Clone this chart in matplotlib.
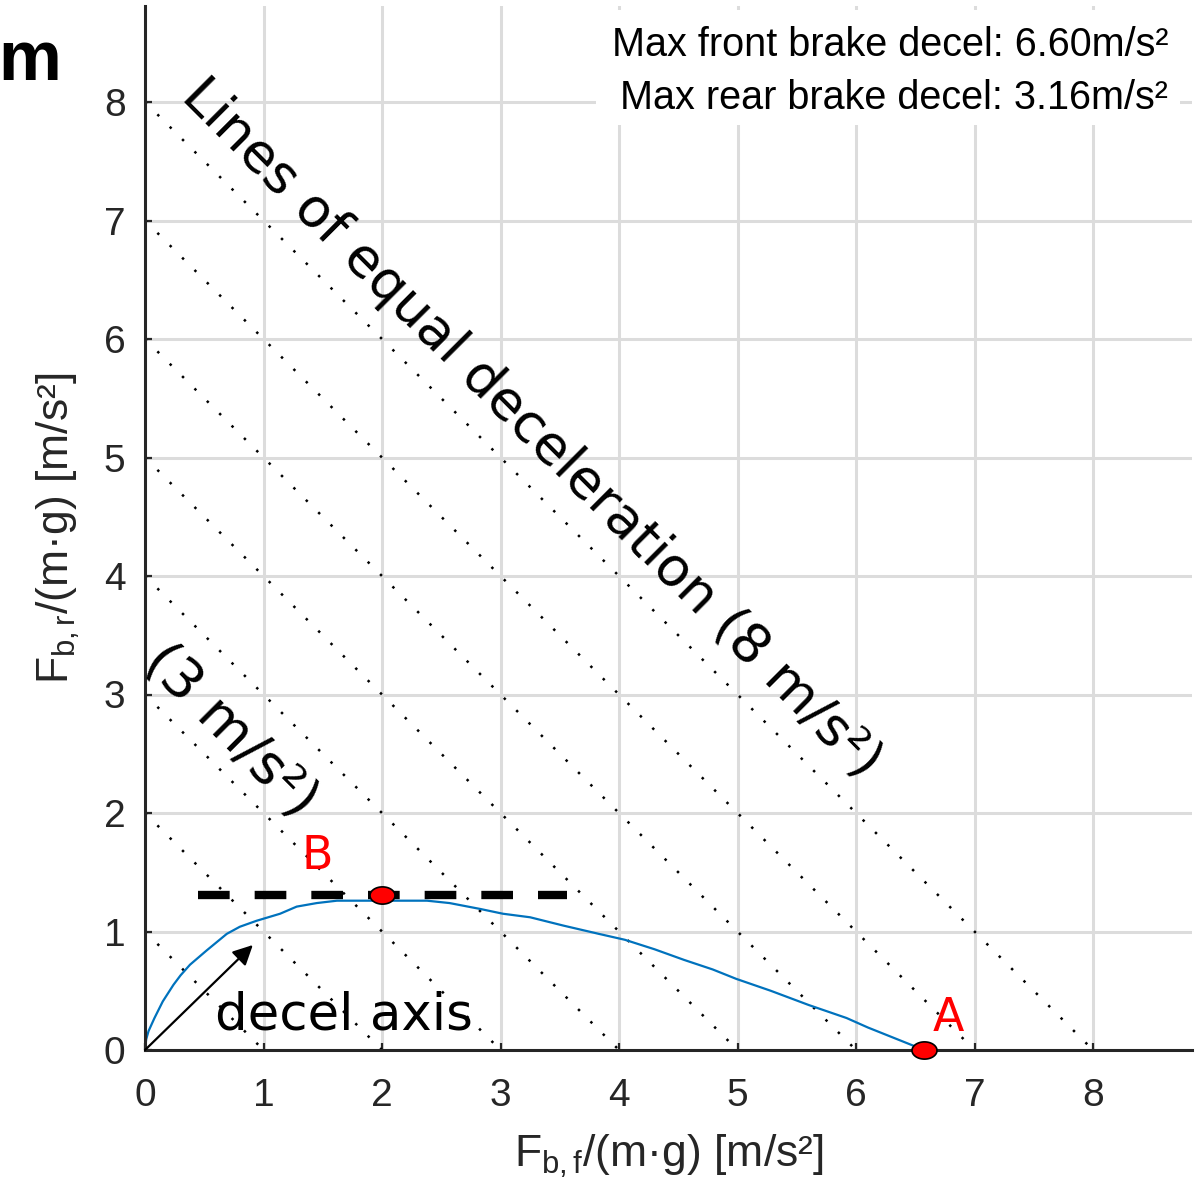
import numpy as np
import matplotlib
matplotlib.use("Agg")
import matplotlib.pyplot as plt
from matplotlib.patches import Rectangle

plt.rcParams['mathtext.fontset'] = 'custom'
plt.rcParams['mathtext.rm'] = 'Liberation Sans'
plt.rcParams['mathtext.it'] = 'Liberation Sans:italic'
plt.rcParams['mathtext.bf'] = 'Liberation Sans:bold'

# ---- data ----
front_decel = [0.0, 0.01, 0.03, 0.08, 0.15, 0.24, 0.30, 0.38, 0.52, 0.69, 0.80, 0.94,
               1.14, 1.28, 1.45, 1.62, 2.01, 2.38, 2.57, 2.83, 3.02, 3.25, 3.53,
               3.83, 4.05, 4.30, 4.55, 4.79, 4.99, 5.28, 5.60, 5.92, 6.10, 6.40, 6.50, 6.57]
rear_decel = [0.0, 0.09, 0.16, 0.27, 0.41, 0.55, 0.63, 0.72, 0.84, 0.98, 1.04, 1.09,
              1.15, 1.21, 1.24, 1.26, 1.26, 1.26, 1.24, 1.19, 1.15, 1.12, 1.05,
              0.98, 0.93, 0.85, 0.76, 0.68, 0.60, 0.50, 0.38, 0.27, 0.19, 0.07, 0.03, 0.0]
decel_levels = [1, 2, 3, 4, 5, 6, 7, 8]
point_A = (6.57, 0.0)
point_B = (2.0, 1.31)
b_line_x = [0.45, 3.56]
b_line_y = [1.31, 1.31]
arrow_tip = (0.91, 0.886)
ticks = [0, 1, 2, 3, 4, 5, 6, 7, 8]
max_front = 6.60
max_rear = 3.16

W, H = 1196, 1194
fig = plt.figure(figsize=(W / 100, H / 100), dpi=100)
ax = fig.add_axes([145 / W, 144 / H, (1192 - 145) / W, (1050 - 6) / H])
ax.set_xlim(0, 1047 / 118.5)
ax.set_ylim(0, 1044 / 118.5)

axcol = '#262626'
for s in ['top', 'right']:
    ax.spines[s].set_visible(False)
for s in ['left', 'bottom']:
    ax.spines[s].set_color(axcol)
    ax.spines[s].set_linewidth(2.2)
    ax.spines[s].set_zorder(6)

ax.set_xticks(ticks)
ax.set_yticks(ticks)
ax.tick_params(direction='in', length=5, width=1.6, color=axcol, labelcolor=axcol,
               labelsize=28)
ax.tick_params(axis='x', pad=20)
ax.tick_params(axis='y', pad=14)
for lab in ax.get_xticklabels() + ax.get_yticklabels():
    lab.set_fontfamily('Liberation Sans')
ax.grid(True, color='#dcdcdc', lw=2.2, zorder=0)
ax.set_axisbelow(True)

# lines of equal deceleration
for c in decel_levels:
    ax.plot([0, c], [c, 0], color='black', lw=1.8, linestyle=(0, (1, 6.0)), zorder=2)

# brake distribution curve
ax.plot(front_decel, rear_decel, color='#0072BD', lw=1.6, zorder=3)

# dashed line at B
ax.plot(b_line_x, b_line_y, color='black', lw=6, linestyle=(0, (3.8, 3.0)),
        solid_capstyle='butt', dash_capstyle='butt', zorder=4)

# elliptical markers
t = np.linspace(0, 2 * np.pi, 80)
ell = np.column_stack([1.45 * np.cos(t), np.sin(t)])
for p in (point_A, point_B):
    ax.plot([p[0]], [p[1]], marker=ell, markersize=18, markerfacecolor='red',
            markeredgecolor='black', markeredgewidth=1.2, linestyle='none',
            clip_on=False, zorder=8)

ax.text(6.78, 0.27, 'A', color='red', fontsize=33, ha='center', va='center', zorder=9)
ax.text(1.45, 1.63, 'B', color='red', fontsize=33, ha='center', va='center', zorder=9)

# decel axis arrow
ax.annotate('', xy=arrow_tip, xytext=(0, 0),
            arrowprops=dict(arrowstyle='-|>', color='black', lw=1.6,
                            mutation_scale=30, shrinkA=0, shrinkB=0), zorder=7)
ax.text(0.59, 0.17, 'decel axis', fontsize=37, ha='left', va='baseline', zorder=9)

ax.text(3.26, 5.24, 'Lines of equal deceleration (8 m/s²)', fontsize=39,
        rotation=-45, rotation_mode='anchor', ha='center', va='center', zorder=9)
ax.text(0.72, 2.69, '(3 m/s²)', fontsize=40,
        rotation=-45, rotation_mode='anchor', ha='center', va='center', zorder=9)

ax.set_xlabel('F$_{\\mathrm{b,f}}$/(m·g) [m/s²]', fontsize=32, color=axcol,
              fontfamily='Liberation Sans', labelpad=14)
ax.set_ylabel('F$_{\\mathrm{b,r}}$/(m·g) [m/s²]', fontsize=32, color=axcol,
              fontfamily='Liberation Sans', labelpad=16)

# info box
fig.patches.append(Rectangle((596 / W, 1 - 125 / H), (1180 - 596) / W, (125 - 10) / H,
                             transform=fig.transFigure, fc='white', ec='none', zorder=2))
fig.text(1168 / W, 1 - 56 / H, f'Max front brake decel: {max_front:.2f}m/s²',
         ha='right', va='baseline', fontsize=28.5, fontfamily='Liberation Sans',
         color='black', zorder=3)
fig.text(1168 / W, 1 - 109 / H, f'Max rear brake decel: {max_rear:.2f}m/s²',
         ha='right', va='baseline', fontsize=28.5, fontfamily='Liberation Sans',
         color='black', zorder=3)

fig.text(-2 / W, 1 - 80 / H, 'm', ha='left', va='baseline', fontsize=51,
         fontweight='bold', fontfamily='Liberation Sans')

fig.savefig('out.png', dpi=100)
